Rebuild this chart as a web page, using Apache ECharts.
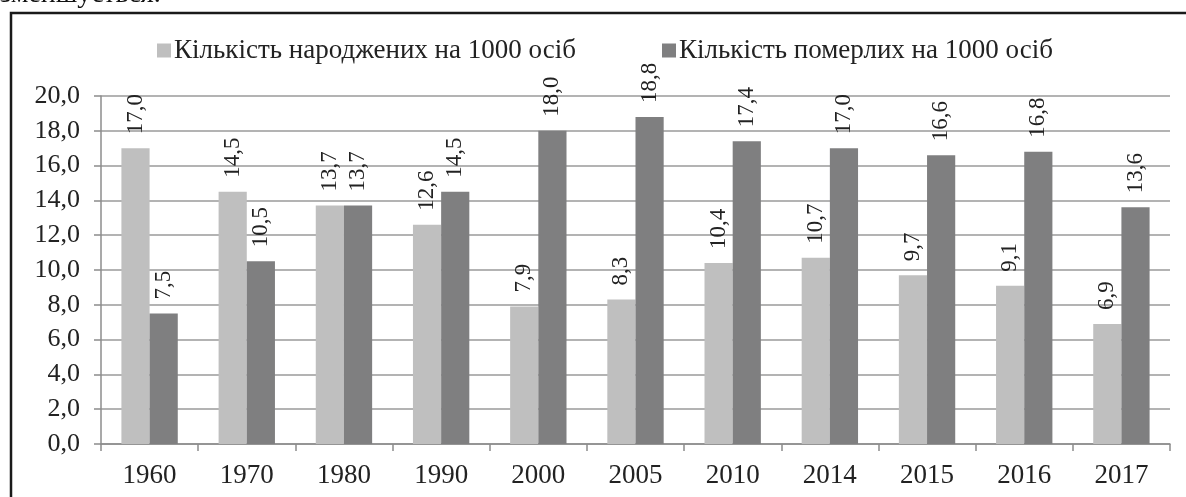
<!DOCTYPE html>
<html><head><meta charset="utf-8">
<script src="https://cdn.jsdelivr.net/npm/echarts@6/dist/echarts.min.js"></script>
<style>html,body{margin:0;padding:0;background:#fff;}#c{width:1186px;height:497px;}</style>
</head><body><div id="c"></div>
<script>
const years = ['1960','1970','1980','1990','2000','2005','2010','2014','2015','2016','2017'];
const births = [17.0,14.5,13.7,12.6,7.9,8.3,10.4,10.7,9.7,9.1,6.9];
const deaths = [7.5,10.5,13.7,14.5,18.0,18.8,17.4,17.0,16.6,16.8,13.6];
const seriesNames = ['Кількість народжених на 1000 осіб','Кількість померлих на 1000 осіб'];

const FONT = '"Liberation Serif","Times New Roman",serif';
const fmt = v => v.toFixed(1).replace('.', ',');
const chart = echarts.init(document.getElementById('c'), null, {renderer:'canvas'});
const lbl = {
  show:true, position:'top', rotate:90, align:'left', verticalAlign:'middle', distance:14,
  fontFamily:FONT, fontSize:23, color:'#222', formatter:p=>fmt(p.value)
};
const legendBase = {
  top:32, itemWidth:14, itemHeight:14, icon:'rect',
  textStyle:{fontFamily:FONT, fontSize:27, color:'#222', padding:[0,0,0,-2]}
};
chart.setOption({
  animation:false,
  backgroundColor:'#fff',
  textStyle:{fontFamily:FONT},
  graphic:[
    {type:'rect', shape:{x:11,y:13,width:1300,height:600}, style:{fill:'none',stroke:'#1a1a1a',lineWidth:2.5}, z:100},
    {type:'text', x:0, y:9, style:{text:'зменшується.', font:'28px '+FONT, fill:'#111', textVerticalAlign:'bottom'}, z:100}
  ],
  legend:[
    Object.assign({left:152, data:[seriesNames[0]]}, legendBase),
    Object.assign({left:657, data:[seriesNames[1]]}, legendBase)
  ],
  grid:{left:101, right:16, top:96, bottom:53, containLabel:false},
  xAxis:{
    type:'category', data:years,
    axisLine:{lineStyle:{color:'#8c8c8c', width:1.5}},
    axisTick:{show:true, alignWithLabel:false, length:7, lineStyle:{color:'#8c8c8c', width:1.5}},
    axisLabel:{fontFamily:FONT, fontSize:27, color:'#222', margin:18}
  },
  yAxis:{
    type:'value', min:0, max:20, interval:2,
    axisLine:{show:true, lineStyle:{color:'#8c8c8c', width:1.5}},
    axisTick:{show:true, length:7, lineStyle:{color:'#8c8c8c', width:1.5}},
    splitLine:{lineStyle:{color:'#9a9a9a', width:1.5}},
    axisLabel:{fontFamily:FONT, fontSize:26, color:'#222', margin:21, formatter:fmt}
  },
  series:[
    {name:seriesNames[0], type:'bar', data:births, barGap:'0%', barCategoryGap:'42%',
     itemStyle:{color:'#bfbfbf'}, label:lbl},
    {name:seriesNames[1], type:'bar', data:deaths, barGap:'0%', barCategoryGap:'42%',
     itemStyle:{color:'#7f7f80'}, label:lbl}
  ]
});
</script></body></html>
